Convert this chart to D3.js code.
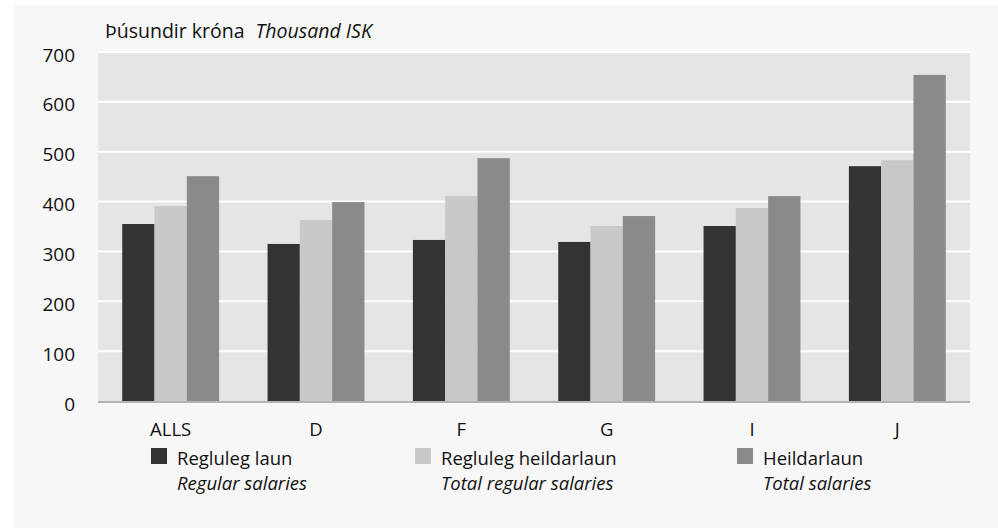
<!DOCTYPE html>
<html><head><meta charset="utf-8">
<script src="https://cdn.jsdelivr.net/npm/d3@7"></script>
<style>
html,body{margin:0;padding:0;background:#fff;}
text{font-family:"Open Sans","Noto Sans",sans-serif;fill:#111;}
</style></head><body>
<svg id="c" width="998" height="528"></svg>
<script>
const categories = ["ALLS","D","F","G","I","J"];
const seriesNames = ["Regluleg laun","Regluleg heildarlaun","Heildarlaun"];
const seriesNamesEn = ["Regular salaries","Total regular salaries","Total salaries"];
const reglulegLaun = [355,315,323,319,351,471];
const reglulegHeildarlaun = [391,363,411,351,387,483];
const heildarlaun = [451,399,487,371,411,654];
const yTicks = [0,100,200,300,400,500,600,700];
const colors = ["#333331","#c8c9c8","#8a8a8a"];

const svg = d3.select("#c");
svg.append("rect").attr("x",14).attr("y",5).attr("width",984).attr("height",523).attr("fill","#f7f7f7");

const m = {left:98,right:970,top:52,bottom:401};
const x = d3.scaleBand().domain(categories).range([m.left,m.right]).paddingInner(0).paddingOuter(0);
const x1 = d3.scaleBand().domain(d3.range(3)).range([0,x.bandwidth()]).paddingOuter(0.75);
const y = d3.scaleLinear().domain([0,700]).range([m.bottom,m.top]);

svg.append("rect").attr("x",m.left).attr("y",m.top).attr("width",m.right-m.left).attr("height",m.bottom-m.top).attr("fill","#e5e5e5");

svg.append("g").selectAll("line").data(yTicks.filter(d=>d>0)).join("line")
  .attr("x1",m.left).attr("x2",m.right).attr("y1",d=>y(d)).attr("y2",d=>y(d))
  .attr("stroke","#fff").attr("stroke-width",2);

const vals = [reglulegLaun,reglulegHeildarlaun,heildarlaun];
const g = svg.append("g");
categories.forEach((c,i)=>{
  vals.forEach((arr,s)=>{
    g.append("rect")
      .attr("x",x(c)+x1(s)).attr("width",x1.bandwidth())
      .attr("y",y(arr[i])).attr("height",y(0)-y(arr[i]))
      .attr("fill",colors[s]);
  });
});

svg.append("line").attr("x1",m.left).attr("x2",m.right).attr("y1",m.bottom+1).attr("y2",m.bottom+1)
  .attr("stroke","#b3b3b3").attr("stroke-width",2);

// y axis labels
const yAxis = d3.axisLeft(y).tickValues(yTicks).tickSize(0).tickPadding(23);
const ya = svg.append("g").attr("transform",`translate(${m.left},3)`).call(yAxis);
ya.select(".domain").remove();
ya.selectAll("text").style("font-size","19px").attr("fill","#111");

// x axis labels
const xAxis = d3.axisBottom(x).tickSize(0).tickPadding(0);
const xa = svg.append("g").attr("transform",`translate(0,${m.bottom})`).call(xAxis);
xa.select(".domain").remove();
xa.selectAll("text").style("font-size","18.5px").attr("fill","#111").attr("y",35).attr("dy",0);

// title
const t = svg.append("text").attr("x",105).attr("y",38).style("font-size","19.5px");
t.append("tspan").text("Þúsundir króna ");
t.append("tspan").attr("dx",6).style("font-style","italic").text("Thousand ISK");

// legend
const legX = [151,415,737];
seriesNames.forEach((n,i)=>{
  svg.append("rect").attr("x",legX[i]).attr("y",448).attr("width",16).attr("height",16).attr("fill",colors[i]);
  svg.append("text").attr("x",legX[i]+26).attr("y",465).style("font-size","18.5px").text(n);
  svg.append("text").attr("x",legX[i]+26).attr("y",490).style("font-size","18.5px").style("font-style","italic").text(seriesNamesEn[i]);
});
</script>
</body></html>
